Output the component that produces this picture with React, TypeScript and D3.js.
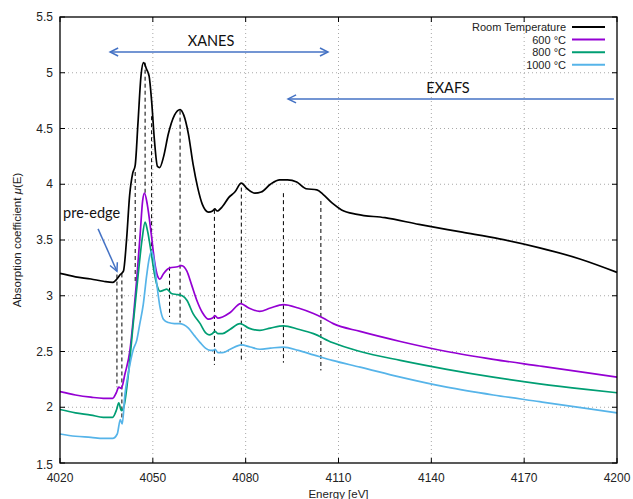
import React from 'react'
import * as d3 from 'd3'

// axis ticks
const xTicks = [4020, 4050, 4080, 4110, 4140, 4170, 4200]
const yTicks = [1.5, 2, 2.5, 3, 3.5, 4, 4.5, 5, 5.5]

// [energy eV, mu(E)]
const roomTemp: [number, number][] = [
  [4020, 3.2], [4025, 3.17], [4030, 3.15], [4034, 3.13], [4037, 3.12], [4038.4, 3.15],
  [4039.5, 3.19], [4040.5, 3.22], [4041.5, 3.5], [4042.5, 3.9], [4043.5, 4.1], [4044.3, 4.17],
  [4045.2, 4.55], [4046.2, 4.98], [4047.0, 5.09], [4048.0, 5.03], [4048.8, 4.97], [4049.6, 4.75],
  [4050.5, 4.4], [4051.5, 4.16], [4052.2, 4.15], [4053.5, 4.25], [4055, 4.45], [4057, 4.62],
  [4058.8, 4.67], [4060, 4.62], [4061.5, 4.45], [4063, 4.18], [4064.5, 3.97], [4066, 3.82],
  [4068, 3.75], [4069.3, 3.76], [4070, 3.78], [4070.8, 3.76], [4072.5, 3.8], [4074.5, 3.88],
  [4076.5, 3.93], [4078.6, 4.01], [4080.5, 3.96], [4083, 3.92], [4085, 3.93], [4088, 4.0],
  [4091, 4.04], [4093.5, 4.04], [4096.5, 4.02], [4099.5, 3.96], [4103, 3.95], [4105, 3.91],
  [4108, 3.83], [4111, 3.77], [4116, 3.73], [4125, 3.7], [4136, 3.64], [4150, 3.57],
  [4162, 3.51], [4175, 3.43], [4188, 3.33], [4200, 3.21],
]

const t600: [number, number][] = [
  [4020, 2.14], [4025, 2.11], [4030, 2.09], [4034, 2.08], [4037, 2.08], [4038.2, 2.13],
  [4039, 2.18], [4039.8, 2.17], [4041, 2.3], [4042.6, 2.51], [4043.7, 2.8], [4044.8, 3.15],
  [4045.9, 3.55], [4046.7, 3.85], [4047.3, 3.92], [4048.2, 3.82], [4049.5, 3.55], [4050.5, 3.32],
  [4051.5, 3.18], [4052.3, 3.15], [4053.5, 3.2], [4055.5, 3.25], [4058, 3.26], [4059.3, 3.27],
  [4061, 3.22], [4062.5, 3.1], [4064.2, 2.96], [4066, 2.85], [4068, 2.79], [4069.3, 2.8],
  [4070.1, 2.82], [4071, 2.8], [4072.5, 2.81], [4075, 2.85], [4078.4, 2.93], [4081, 2.89],
  [4084.5, 2.86], [4088, 2.89], [4092.2, 2.92], [4097, 2.89], [4101.9, 2.84], [4105, 2.8],
  [4108.3, 2.75], [4117, 2.68], [4130, 2.59], [4145, 2.5], [4160, 2.43], [4175, 2.37],
  [4190, 2.31], [4200, 2.27],
]

const t800: [number, number][] = [
  [4020, 1.98], [4025, 1.95], [4030, 1.93], [4034, 1.91], [4037, 1.91], [4038.3, 1.98],
  [4039, 2.04], [4039.8, 1.97], [4040.5, 1.99], [4042.1, 2.3], [4043.7, 2.76], [4045.3, 3.2],
  [4046.5, 3.5], [4047.5, 3.66], [4048.3, 3.58], [4049.5, 3.38], [4050.5, 3.2], [4051.5, 3.08],
  [4052.3, 3.04], [4053.5, 3.05], [4054.5, 3.06], [4056, 3.02], [4058, 3.01], [4059.5, 3.0],
  [4061, 2.96], [4063, 2.84], [4065.3, 2.75], [4067, 2.67], [4068.2, 2.65], [4069.2, 2.66],
  [4070.1, 2.68], [4071, 2.66], [4072.5, 2.66], [4075, 2.7], [4078.2, 2.75], [4081, 2.71],
  [4084.6, 2.69], [4088, 2.71], [4092.2, 2.73], [4097, 2.7], [4101.9, 2.66], [4108, 2.58],
  [4117, 2.5], [4130, 2.42], [4145, 2.34], [4160, 2.27], [4175, 2.21], [4190, 2.16],
  [4200, 2.13],
]

const t1000: [number, number][] = [
  [4020, 1.76], [4025, 1.74], [4030, 1.73], [4034, 1.72], [4037, 1.72], [4038.5, 1.76],
  [4039.5, 1.89], [4040.1, 1.85], [4041, 2.12], [4042.1, 2.31], [4043.7, 2.52], [4044.8, 2.6],
  [4045.8, 2.75], [4046.9, 2.92], [4048, 3.18], [4048.8, 3.33], [4049.6, 3.4], [4050.3, 3.33],
  [4051.3, 3.1], [4052.3, 2.9], [4053.4, 2.79], [4055, 2.76], [4057, 2.75], [4058.5, 2.75],
  [4060, 2.74], [4061.5, 2.71], [4063.5, 2.64], [4065.3, 2.58], [4067, 2.53], [4068.5, 2.51],
  [4069.5, 2.51], [4070.1, 2.52], [4071, 2.49], [4072.5, 2.49], [4075, 2.52], [4078.6, 2.56],
  [4081.5, 2.54], [4084.6, 2.52], [4088, 2.53], [4092.2, 2.54], [4097, 2.51], [4101.9, 2.47],
  [4108, 2.42], [4117, 2.36], [4130, 2.27], [4145, 2.18], [4160, 2.11], [4175, 2.05],
  [4190, 1.99], [4200, 1.95],
]

const seriesNames = ['Room Temperature', '600 °C', '800 °C', '1000 °C']
const seriesData = [roomTemp, t600, t800, t1000]
const seriesColors = ['#000000', '#9400d3', '#009e73', '#56b4e9']

// dashed feature markers: [energy, mu top, mu bottom]
const featureLines: [number, number, number][] = [
  [4038.4, 3.19, 2.18], [4040.0, 3.2, 1.89], [4044.3, 4.11, 3.11], [4047.5, 5.09, 3.9],
  [4049.6, 4.61, 3.39], [4055.4, 3.26, 2.81], [4058.8, 4.66, 2.76], [4069.9, 3.77, 2.38],
  [4078.6, 3.97, 2.42], [4092.2, 3.92, 2.4], [4104.3, 3.85, 2.33],
]

// annotations, in data coordinates
const xanesRange = [4036.2, 4106.6, 5.186]
const exafsRange = [4093.7, 4199.0, 4.765]
const preEdgeArrow = [4032.3, 3.6, 4038.4, 3.22]

const W = 633, H = 499
const margin = { top: 17, right: 16, bottom: 36, left: 60 }

function chevron(tx: number, ty: number, fx: number, fy: number, len = 8, half = 4) {
  // open arrowhead at (tx,ty) pointing away from (fx,fy)
  const dx = tx - fx, dy = ty - fy
  const d = Math.hypot(dx, dy)
  const ux = dx / d, uy = dy / d
  const bx = tx - ux * len, by = ty - uy * len
  return `M${bx - uy * half},${by + ux * half}L${tx},${ty}L${bx + uy * half},${by - ux * half}`
}

export default function App() {
  const x = d3.scaleLinear().domain([4020, 4200]).range([margin.left, W - margin.right])
  const y = d3.scaleLinear().domain([1.5, 5.5]).range([H - margin.bottom, margin.top])
  const line = d3.line<[number, number]>()
    .x(d => x(d[0]))
    .y(d => y(d[1]))
    .curve(d3.curveMonotoneX)

  const x0 = x(4020), x1 = x(4200), y0 = y(1.5), y1 = y(5.5)
  const tickFont = '"Liberation Sans", Arial, sans-serif'
  const noteFont = 'Lato, "Open Sans", sans-serif'
  const blue = '#4472c4'

  const [xa, xb, xm] = xanesRange
  const [ea, eb, em] = exafsRange
  const [pa, pam, pb, pbm] = preEdgeArrow

  const legendTop = 27, legendStep = 12.6

  return (
    <svg width={W} height={H} style={{ position: 'absolute', left: 0, top: 0, background: '#fff' }}>
      {/* grid */}
      <g stroke="#a8a8a8" strokeWidth={1} strokeDasharray="1,3">
        {xTicks.slice(1, -1).map(t => (
          <line key={'gx' + t} x1={x(t)} x2={x(t)} y1={y1} y2={y0} />
        ))}
        {yTicks.slice(1, -1).map(t => (
          <line key={'gy' + t} x1={x0} x2={x1} y1={y(t)} y2={y(t)} />
        ))}
      </g>

      {/* ticks, mirrored */}
      <g stroke="#000" strokeWidth={1}>
        {xTicks.map(t => (
          <g key={'tx' + t}>
            <line x1={x(t)} x2={x(t)} y1={y0} y2={y0 - 5} />
            <line x1={x(t)} x2={x(t)} y1={y1} y2={y1 + 5} />
          </g>
        ))}
        {yTicks.map(t => (
          <g key={'ty' + t}>
            <line x1={x0} x2={x0 + 5} y1={y(t)} y2={y(t)} />
            <line x1={x1} x2={x1 - 5} y1={y(t)} y2={y(t)} />
          </g>
        ))}
      </g>

      {/* feature markers */}
      <g stroke="#000" strokeWidth={1} strokeDasharray="4,3">
        {featureLines.map((f, i) => (
          <line key={'f' + i} x1={x(f[0])} x2={x(f[0])} y1={y(f[1])} y2={y(f[2])} />
        ))}
      </g>

      {/* spectra */}
      {seriesData.map((s, i) => (
        <path key={seriesNames[i]} d={line(s) || ''} fill="none" stroke={seriesColors[i]} strokeWidth={1.7} strokeLinejoin="round" />
      ))}

      {/* border */}
      <rect x={x0} y={y1} width={x1 - x0} height={y0 - y1} fill="none" stroke="#000" strokeWidth={1.3} />

      {/* tick labels */}
      <g fontFamily={tickFont} fontSize={12} fill="#222">
        {xTicks.map(t => (
          <text key={'lx' + t} x={x(t)} y={y0 + 19} textAnchor="middle">{t}</text>
        ))}
        {yTicks.map(t => (
          <text key={'ly' + t} x={x0 - 7} y={y(t) + 4 + (t === 1.5 ? 2 : 0)} textAnchor="end">{t}</text>
        ))}
      </g>

      {/* axis titles */}
      <text x={(x0 + x1) / 2} y={H - 1} textAnchor="middle" fontFamily={tickFont} fontSize={11.5} fill="#222">Energy [eV]</text>
      <text transform={`translate(21,${(y0 + y1) / 2}) rotate(-90)`} textAnchor="middle" fontFamily={tickFont} fontSize={11.5} fill="#222">
        Absorption coefficient <tspan fontStyle="italic">μ</tspan>(E)
      </text>

      {/* legend */}
      <g fontFamily={tickFont} fontSize={11} fill="#222">
        {seriesNames.map((n, i) => (
          <g key={'lg' + n}>
            <text x={566} y={legendTop + i * legendStep + 4} textAnchor="end">{n}</text>
            <line x1={572} x2={605} y1={legendTop + i * legendStep} y2={legendTop + i * legendStep} stroke={seriesColors[i]} strokeWidth={2} />
          </g>
        ))}
      </g>

      {/* XANES / EXAFS / pre-edge annotations */}
      <g stroke={blue} strokeWidth={1.5} fill="none">
        <line x1={x(xa)} x2={x(xb)} y1={y(xm)} y2={y(xm)} />
        <path d={chevron(x(xa), y(xm), x(xb), y(xm))} />
        <path d={chevron(x(xb), y(xm), x(xa), y(xm))} />
        <line x1={x(ea)} x2={x(eb)} y1={y(em)} y2={y(em)} />
        <path d={chevron(x(ea), y(em), x(eb), y(em))} />
        <line x1={x(pa)} x2={x(pb)} y1={y(pam)} y2={y(pbm)} />
        <path d={chevron(x(pb), y(pbm), x(pa), y(pam))} />
      </g>
      <g fontFamily={noteFont} fontSize={14.5} fill="#111">
        <text x={x((xa + xb) / 2) - 8} y={y(xm) - 6} textAnchor="middle">XANES</text>
        <text x={x(4145.4)} y={y(em) - 6} textAnchor="middle">EXAFS</text>
        <text x={x(4021)} y={y(3.7)}>pre-edge</text>
      </g>
    </svg>
  )
}
